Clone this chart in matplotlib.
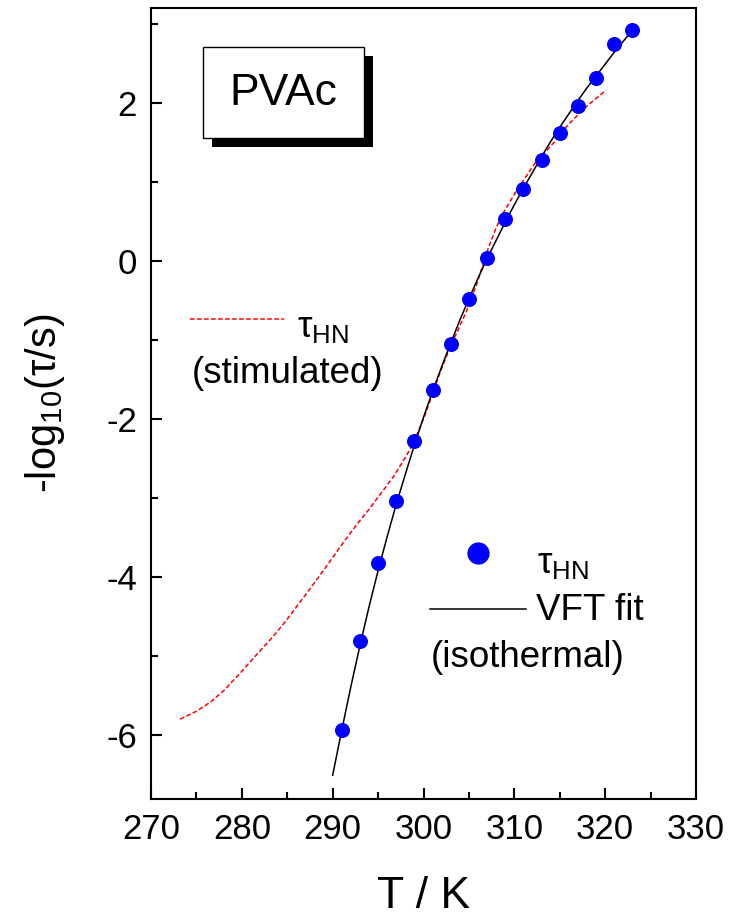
import matplotlib
matplotlib.use("Agg")
import matplotlib.pyplot as plt
from matplotlib.patches import Rectangle
from matplotlib.lines import Line2D
from matplotlib.ticker import MultipleLocator

plt.rcParams["font.family"] = ["Liberation Sans", "DejaVu Sans"]
plt.rcParams["mathtext.fontset"] = "custom"
plt.rcParams["mathtext.rm"] = "Liberation Sans"
plt.rcParams["mathtext.it"] = "Liberation Sans:italic"

# Isothermal HN relaxation times
T_iso = [291, 293, 295, 297, 299, 301, 303, 305, 307, 309, 311, 313, 315, 317, 319, 321, 323]
tau_iso = [-5.94, -4.81, -3.82, -3.04, -2.28, -1.63, -1.05, -0.48, 0.03, 0.53,
           0.91, 1.28, 1.62, 1.96, 2.32, 2.75, 2.92]

# VFT fit curve of the isothermal data
T_vft = [290, 291, 292, 293, 294, 295, 296, 297, 298, 299, 300, 301, 302, 303, 304,
         305, 306, 307, 308, 309, 310, 311, 312, 313, 314, 315, 316, 317, 318, 319,
         320, 321, 322, 323]
tau_vft = [-6.51, -5.94, -5.39, -4.87, -4.38, -3.92, -3.49, -3.08, -2.70, -2.33,
           -1.98, -1.65, -1.34, -1.04, -0.75, -0.48, -0.22, 0.03, 0.26, 0.49,
           0.71, 0.92, 1.12, 1.32, 1.51, 1.69, 1.86, 2.03, 2.19, 2.34,
           2.49, 2.64, 2.78, 2.92]

# Stimulated (non-isothermal) HN relaxation times
T_stim = [273.2, 275.0, 276.6, 278.0, 279.8, 281.5, 283.4, 284.9, 286.4, 287.9,
          289.6, 291.2, 292.7, 294.1, 295.4, 296.7, 298.2, 299.2, 300.0, 300.7,
          301.8, 302.9, 303.9, 304.8, 305.9, 307.1, 308.0, 308.8, 310.3, 312.3,
          314.3, 315.9, 318.0, 320.1]
tau_stim = [-5.80, -5.70, -5.58, -5.44, -5.22, -5.00, -4.76, -4.55, -4.32, -4.09,
            -3.82, -3.56, -3.33, -3.13, -2.93, -2.73, -2.45, -2.22, -2.00, -1.78,
            -1.42, -1.10, -0.85, -0.62, -0.28, 0.15, 0.42, 0.61, 0.90, 1.24,
            1.49, 1.72, 1.96, 2.16]

xticks = [270, 280, 290, 300, 310, 320, 330]
yticks = [-6, -4, -2, 0, 2]

fig = plt.figure(figsize=(7.35, 9.17), dpi=100)
ax = fig.add_axes([0.2054, 0.1287, 0.7416, 0.8626])

red_dash = (0, (3.0, 1.6))
ax.plot(T_stim, tau_stim, color="red", lw=1.1, linestyle=red_dash, zorder=2)
ax.plot(T_vft, tau_vft, color="black", lw=1.1, zorder=3)
ax.plot(T_iso, tau_iso, "o", color="blue", markersize=10.8, markeredgewidth=0, zorder=4)

ax.set_xlim(270, 330)
ax.set_ylim(-6.81, 3.20)
ax.set_xticks(xticks)
ax.set_yticks(yticks)
ax.set_yticklabels([str(v) for v in yticks])
ax.xaxis.set_minor_locator(MultipleLocator(5))
ax.yaxis.set_minor_locator(MultipleLocator(1))
ax.tick_params(which="both", direction="in", width=1.5, labelsize=25, pad=10,
               top=False, right=False)
ax.tick_params(which="major", length=8)
ax.tick_params(which="minor", length=5)
for s in ax.spines.values():
    s.set_linewidth(1.5)

ax.set_xlabel("T / K", fontsize=32, labelpad=22)
ax.set_ylabel(r"-log$_{10}$(τ/s)", fontsize=30, labelpad=28)

# Sample title box with drop shadow
ax.add_patch(Rectangle((0.112, 0.8243), 0.2954, 0.1150, transform=ax.transAxes,
                       facecolor="black", edgecolor="black", lw=0, zorder=5))
ax.add_patch(Rectangle((0.0954, 0.8357), 0.2954, 0.1150, transform=ax.transAxes,
                       facecolor="white", edgecolor="black", lw=1.0, zorder=6))
ax.text(0.243, 0.8925, "PVAc", transform=ax.transAxes, fontsize=32,
        ha="center", va="center", zorder=7)

# Key for the stimulated curve
ax.add_line(Line2D([0.0716, 0.244], [0.6068, 0.6068], transform=ax.transAxes,
                   color="red", lw=1.1, linestyle=red_dash))
ax.text(0.268, 0.584, r"τ$_{\mathrm{HN}}$", transform=ax.transAxes, fontsize=26.5,
        ha="left", va="baseline")
ax.text(0.075, 0.526, "(stimulated)", transform=ax.transAxes, fontsize=26.5,
        ha="left", va="baseline")

# Key for the isothermal data and fit
ax.add_line(Line2D([0.600], [0.311], transform=ax.transAxes, marker="o",
                   color="blue", markersize=16, markeredgewidth=0, linestyle="none"))
ax.text(0.708, 0.2857, r"τ$_{\mathrm{HN}}$", transform=ax.transAxes, fontsize=26.5,
        ha="left", va="baseline")
ax.add_line(Line2D([0.512, 0.688], [0.240, 0.240], transform=ax.transAxes,
                   color="black", lw=1.1))
ax.text(0.706, 0.2263, "VFT fit", transform=ax.transAxes, fontsize=26.5,
        ha="left", va="baseline")
ax.text(0.514, 0.167, "(isothermal)", transform=ax.transAxes, fontsize=26.5,
        ha="left", va="baseline")

fig.savefig("out.png", dpi=100)
